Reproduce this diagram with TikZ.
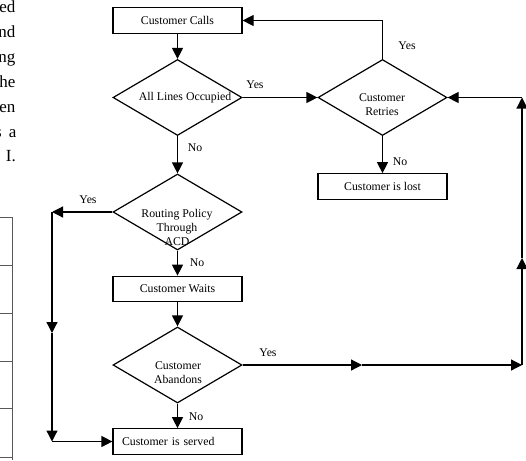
\documentclass[tikz,border=0pt]{standalone}
\usepackage{fontspec}
\setmainfont{Liberation Serif}
\usetikzlibrary{shapes.geometric,arrows.meta}
\begin{document}
\begin{tikzpicture}[x=1pt,y=-1pt,
  every node/.style={font=\fontsize{11.8}{14}\selectfont},
  box/.style={draw, line width=1.2pt, minimum width=129pt, minimum height=25.5pt, inner sep=0pt},
  dia/.style={draw, diamond, line width=1.2pt, minimum width=129pt, minimum height=76pt, inner sep=0pt},
  lbl/.style={inner sep=0pt},
  conn/.style={line width=1.2pt, -{Triangle[length=11pt,width=11pt]}},
  plain/.style={line width=1.2pt},
  tbl/.style={draw=black!65, line width=0.9pt},
  para/.style={font=\fontsize{17}{20}\selectfont, anchor=base east, inner sep=0pt},
]
\useasboundingbox (0,0) rectangle (526,460);
\clip (0,0) rectangle (526,460);

% left paragraph fragment
\node[para] (p1) at (15.5,13) {ed};
\node[para] (p2) at (15.5,37.8) {nd};
\node[para] (p3) at (15.5,62.6) {ng};
\node[para] (p4) at (15.5,87.4) {he};
\node[para] (p5) at (15.5,112.2) {en};
\node[para] (p6) at (16.7,137) {a};
\node[para] (p6s) at (2,137) {s};
\node[para] (p7) at (16,161.8) {I.};

% left table fragment
\draw[tbl] (12,217) -- (12,460);
\foreach \yy in {217,265,313,361,408,457} \draw[tbl] (0,\yy) -- (12,\yy);

% shapes
\node[box] (calls) at (177.5,20.5) {Customer Calls};
\node[dia] (lines) at (177.5,97.5) {};
\node[lbl] (linesT) at (185,97.5) {All Lines Occupied};
\node[dia] (retries) at (382.5,97.5) {};
\node[lbl, align=center] (retriesT) at (382,104.5) {Customer\\Retries};
\node[box] (lost) at (382.5,186.5) {Customer is lost};
\node[dia] (routing) at (177.5,212) {};
\node[lbl, align=center] (routingT) at (177,227.5) {Routing Policy\\Through\\ACD};
\node[box] (waits) at (177.5,289) {Customer Waits};
\node[dia] (aband) at (177.5,365) {};
\node[lbl, align=center] (abandT) at (178,372.5) {Customer\\Abandons};
\node[box, text width=111pt, align=left, inner xsep=9pt] (served) at (177.5,441.5) {Customer is served};

% corner coordinates
\coordinate (rtop) at (382.5,20.5);
\coordinate (rl) at (52,212);
\coordinate (lmid) at (52,333);
\coordinate (lbot) at (52,441.5);
\coordinate (rm) at (362,365);
\coordinate (rbot) at (522,365);
\coordinate (rmid) at (522,258);
\coordinate (rtopc) at (522,97.5);

% connectors
\draw[conn] (calls) -- (lines);
\draw[conn] (lines.east) -- (retries.west);
\draw[plain] (retries.north) -- (rtop);
\draw[conn] (rtop) -- (calls.east);
\draw[conn] (retries) -- (lost);
\draw[conn] (lines) -- (routing);
\draw[conn] (routing.west) -- (rl);
\draw[conn] (rl) -- (lmid);
\draw[conn] (lmid) -- (lbot);
\draw[conn] (lbot) -- (served.west);
\draw[conn] (routing) -- (waits);
\draw[conn] (waits) -- (aband);
\draw[conn] (aband) -- (served);
\draw[conn] (aband.east) -- (rm);
\draw[conn] (rm) -- (rbot);
\draw[conn] (rbot) -- (rmid);
\draw[conn] (rmid) -- (rtopc);
\draw[conn] (rtopc) -- (retries.east);

% labels
\node[lbl] (y1) at (255,85) {Yes};
\node[lbl] (n1) at (195,148) {No};
\node[lbl] (y2) at (407,46) {Yes};
\node[lbl] (n2) at (400,162) {No};
\node[lbl] (y3) at (88,200) {Yes};
\node[lbl] (n3) at (197,263) {No};
\node[lbl] (y4) at (268,353) {Yes};
\node[lbl] (n4) at (196,417) {No};
\end{tikzpicture}
\end{document}
